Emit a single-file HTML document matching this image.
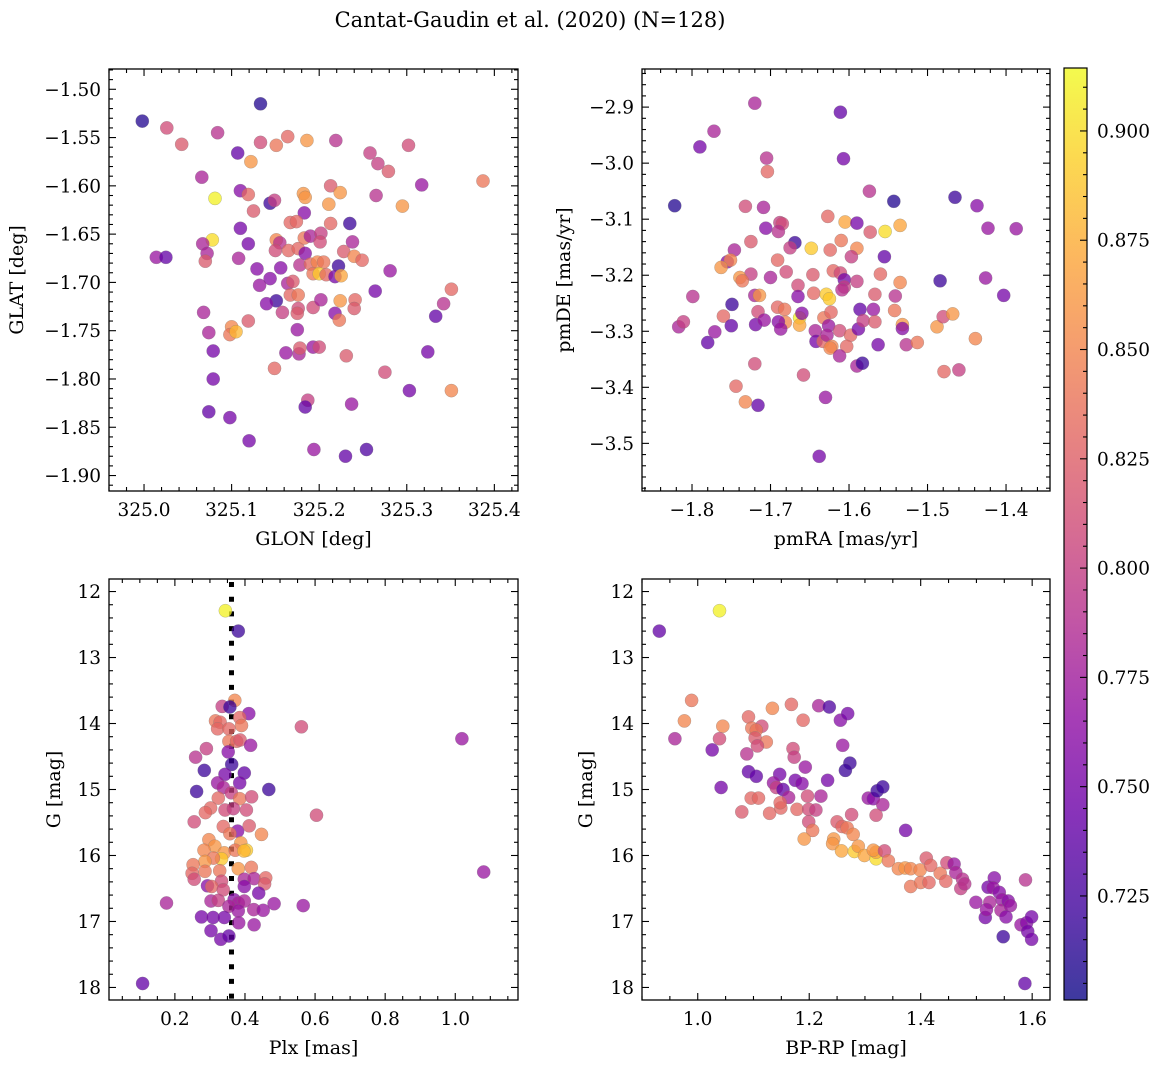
<!DOCTYPE html>
<html><head><meta charset="utf-8">
<style>
html,body{margin:0;padding:0;background:#fff;}
svg text{font-family:"DejaVu Serif","Liberation Serif",serif;fill:#000;}
</style></head>
<body>
<svg id="fig" width="1161" height="1068" viewBox="0 0 1161 1068" xmlns="http://www.w3.org/2000/svg">
<text x="530" y="27" font-size="21" text-anchor="middle">Cantat-Gaudin et al. (2020) (N=128)</text>
<defs>
<linearGradient id="plasma" x1="0" y1="1" x2="0" y2="0">
<stop offset="0" stop-color="#0d0887"/><stop offset="0.1" stop-color="#41049d"/><stop offset="0.2" stop-color="#6a00a8"/><stop offset="0.3" stop-color="#8f0da4"/><stop offset="0.4" stop-color="#b12a90"/><stop offset="0.5" stop-color="#cc4778"/><stop offset="0.6" stop-color="#e16462"/><stop offset="0.7" stop-color="#f2844b"/><stop offset="0.8" stop-color="#fca636"/><stop offset="0.9" stop-color="#fcce25"/><stop offset="1" stop-color="#f0f921"/>
</linearGradient>
</defs>
</svg>
<script>
// ---- Panel 1: GLON vs GLAT ----
const p1Glon=[324.998,325.026,325.043,325.133,325.084,325.107,325.122,325.133,325.151,325.164,325.186,325.219,325.258,325.267,325.279,325.302,325.387,325.317,325.265,325.295,325.066,325.081,325.110,325.119,325.144,325.149,325.125,325.182,325.184,325.213,325.224,325.211,325.183,325.167,325.174,325.213,325.235,325.110,325.119,325.078,325.067,325.072,325.070,325.014,325.025,325.108,325.151,325.155,325.150,325.165,325.176,325.184,325.183,325.190,325.202,325.201,325.238,325.228,325.240,325.249,325.178,325.190,325.198,325.205,325.193,325.200,325.208,325.222,325.218,325.225,325.156,325.129,325.144,325.132,325.164,325.170,325.167,325.176,325.281,325.264,325.351,325.342,325.333,325.151,325.140,325.158,325.176,325.175,325.193,325.202,325.224,325.241,325.240,325.218,325.223,325.068,325.119,325.100,325.098,325.105,325.074,325.175,325.079,325.162,325.177,325.178,325.193,325.200,325.231,325.324,325.149,325.275,325.079,325.303,325.351,325.187,325.184,325.237,325.074,325.098,325.120,325.194,325.230,325.254];
const p1Glat=[-1.533,-1.540,-1.557,-1.515,-1.545,-1.566,-1.575,-1.555,-1.558,-1.549,-1.553,-1.553,-1.566,-1.577,-1.585,-1.558,-1.595,-1.599,-1.610,-1.621,-1.591,-1.613,-1.605,-1.609,-1.618,-1.615,-1.626,-1.608,-1.612,-1.600,-1.607,-1.619,-1.628,-1.638,-1.637,-1.639,-1.639,-1.644,-1.660,-1.656,-1.660,-1.670,-1.678,-1.674,-1.674,-1.675,-1.656,-1.659,-1.667,-1.667,-1.665,-1.670,-1.654,-1.652,-1.649,-1.658,-1.658,-1.668,-1.673,-1.677,-1.682,-1.681,-1.679,-1.679,-1.691,-1.691,-1.692,-1.683,-1.694,-1.693,-1.685,-1.686,-1.696,-1.703,-1.701,-1.699,-1.713,-1.713,-1.688,-1.709,-1.707,-1.722,-1.735,-1.719,-1.722,-1.731,-1.727,-1.732,-1.726,-1.718,-1.719,-1.718,-1.727,-1.732,-1.739,-1.731,-1.740,-1.746,-1.754,-1.751,-1.752,-1.749,-1.771,-1.773,-1.774,-1.768,-1.767,-1.767,-1.776,-1.772,-1.789,-1.793,-1.800,-1.812,-1.812,-1.822,-1.829,-1.826,-1.834,-1.840,-1.864,-1.873,-1.880,-1.873];
const p1Prob=[0.71,0.81,0.82,0.71,0.79,0.74,0.86,0.81,0.84,0.83,0.86,0.79,0.80,0.80,0.82,0.81,0.84,0.77,0.79,0.86,0.78,0.91,0.76,0.83,0.72,0.80,0.82,0.86,0.86,0.82,0.86,0.86,0.76,0.83,0.83,0.83,0.72,0.75,0.75,0.90,0.78,0.78,0.82,0.77,0.74,0.78,0.85,0.79,0.81,0.83,0.83,0.76,0.84,0.78,0.80,0.81,0.78,0.82,0.85,0.83,0.79,0.83,0.85,0.84,0.84,0.89,0.83,0.72,0.75,0.87,0.76,0.76,0.76,0.77,0.78,0.82,0.83,0.84,0.77,0.75,0.83,0.79,0.74,0.72,0.76,0.80,0.81,0.82,0.81,0.78,0.86,0.83,0.82,0.76,0.84,0.78,0.82,0.85,0.84,0.88,0.78,0.77,0.75,0.77,0.78,0.82,0.77,0.81,0.82,0.75,0.83,0.81,0.75,0.75,0.85,0.80,0.74,0.77,0.74,0.75,0.75,0.77,0.74,0.73];

// ---- Panel 2: pmRA vs pmDE ----
const p2Pmra=[-1.720,-1.611,-1.772,-1.790,-1.705,-1.704,-1.607,-1.574,-1.543,-1.465,-1.437,-1.423,-1.387,-1.822,-1.732,-1.709,-1.706,-1.688,-1.685,-1.690,-1.627,-1.605,-1.590,-1.573,-1.554,-1.535,-1.669,-1.675,-1.648,-1.624,-1.610,-1.590,-1.597,-1.555,-1.725,-1.746,-1.755,-1.751,-1.763,-1.691,-1.680,-1.725,-1.739,-1.736,-1.700,-1.646,-1.620,-1.611,-1.606,-1.606,-1.609,-1.590,-1.560,-1.535,-1.484,-1.426,-1.403,-1.799,-1.749,-1.720,-1.714,-1.665,-1.665,-1.645,-1.629,-1.625,-1.567,-1.541,-1.760,-1.817,-1.811,-1.780,-1.771,-1.750,-1.719,-1.716,-1.708,-1.691,-1.682,-1.681,-1.690,-1.687,-1.663,-1.663,-1.660,-1.632,-1.623,-1.626,-1.643,-1.642,-1.633,-1.628,-1.622,-1.624,-1.612,-1.598,-1.603,-1.612,-1.586,-1.588,-1.582,-1.569,-1.567,-1.563,-1.542,-1.532,-1.532,-1.527,-1.513,-1.488,-1.480,-1.468,-1.439,-1.479,-1.460,-1.590,-1.583,-1.720,-1.658,-1.744,-1.732,-1.716,-1.630,-1.638];
const p2Pmde=[-2.893,-2.909,-2.943,-2.971,-2.991,-3.015,-2.992,-3.050,-3.068,-3.061,-3.076,-3.116,-3.117,-3.076,-3.077,-3.079,-3.116,-3.106,-3.108,-3.122,-3.095,-3.105,-3.107,-3.123,-3.122,-3.111,-3.142,-3.151,-3.152,-3.155,-3.138,-3.152,-3.167,-3.167,-3.140,-3.155,-3.176,-3.173,-3.186,-3.173,-3.194,-3.198,-3.204,-3.210,-3.204,-3.199,-3.192,-3.196,-3.208,-3.221,-3.226,-3.211,-3.198,-3.213,-3.210,-3.205,-3.236,-3.238,-3.252,-3.236,-3.236,-3.218,-3.238,-3.232,-3.234,-3.242,-3.234,-3.237,-3.273,-3.292,-3.283,-3.320,-3.301,-3.290,-3.288,-3.265,-3.280,-3.257,-3.261,-3.284,-3.283,-3.296,-3.276,-3.289,-3.268,-3.276,-3.266,-3.290,-3.299,-3.318,-3.318,-3.307,-3.327,-3.330,-3.299,-3.307,-3.327,-3.344,-3.261,-3.296,-3.281,-3.261,-3.283,-3.324,-3.263,-3.288,-3.295,-3.324,-3.320,-3.292,-3.274,-3.269,-3.313,-3.372,-3.369,-3.362,-3.357,-3.358,-3.378,-3.398,-3.426,-3.432,-3.418,-3.523];
const p2Prob=[0.78,0.74,0.78,0.75,0.79,0.83,0.75,0.79,0.71,0.72,0.76,0.77,0.77,0.71,0.81,0.78,0.76,0.80,0.81,0.79,0.83,0.87,0.75,0.82,0.90,0.87,0.72,0.80,0.89,0.83,0.84,0.85,0.80,0.74,0.82,0.78,0.76,0.85,0.86,0.83,0.81,0.80,0.86,0.84,0.78,0.82,0.83,0.81,0.75,0.80,0.79,0.80,0.83,0.85,0.72,0.77,0.75,0.79,0.72,0.78,0.86,0.81,0.76,0.83,0.89,0.89,0.82,0.79,0.83,0.78,0.80,0.74,0.77,0.74,0.75,0.81,0.77,0.83,0.84,0.85,0.76,0.77,0.91,0.87,0.76,0.84,0.83,0.77,0.78,0.75,0.83,0.78,0.85,0.85,0.81,0.83,0.83,0.78,0.74,0.75,0.80,0.77,0.82,0.75,0.84,0.86,0.76,0.79,0.84,0.86,0.81,0.86,0.85,0.83,0.80,0.78,0.72,0.81,0.81,0.83,0.85,0.74,0.77,0.75];

// ---- Panel 3: Plx vs G ----
const p3Plx=[0.344,0.381,0.371,0.335,0.357,0.411,0.385,0.316,0.329,0.390,0.322,0.354,0.561,1.019,0.354,0.376,0.386,0.416,0.290,0.352,0.259,0.362,0.284,0.343,0.398,0.385,0.322,0.338,0.468,0.262,0.361,0.324,0.385,0.419,0.302,0.287,0.343,0.367,0.404,0.604,0.255,0.338,0.379,0.412,0.357,0.297,0.314,0.388,0.447,0.283,0.341,0.372,0.404,0.397,0.333,0.310,0.286,0.252,0.381,0.418,0.328,0.286,0.249,0.255,0.333,0.398,0.426,0.459,0.456,0.293,0.305,0.338,0.398,0.439,1.081,0.176,0.303,0.324,0.369,0.381,0.398,0.483,0.566,0.354,0.425,0.452,0.381,0.276,0.309,0.341,0.382,0.426,0.303,0.331,0.354,0.108];
const p3G=[12.29,12.60,13.65,13.74,13.75,13.85,13.91,13.96,13.98,14.03,14.08,14.08,14.05,14.23,14.27,14.27,14.25,14.33,14.38,14.43,14.51,14.62,14.71,14.77,14.75,14.90,14.90,14.97,15.00,15.03,15.05,15.13,15.14,15.11,15.28,15.35,15.31,15.29,15.31,15.39,15.49,15.56,15.63,15.55,15.67,15.76,15.86,15.81,15.68,15.92,15.96,15.92,15.92,15.93,16.05,16.04,16.09,16.14,16.20,16.18,16.23,16.24,16.27,16.36,16.39,16.36,16.35,16.34,16.43,16.46,16.47,16.52,16.47,16.57,16.25,16.72,16.69,16.68,16.67,16.72,16.69,16.73,16.76,16.77,16.82,16.83,16.84,16.93,16.94,16.94,17.02,17.05,17.14,17.27,17.22,17.94];
const p3Prob=[0.91,0.72,0.85,0.80,0.72,0.76,0.83,0.84,0.83,0.84,0.83,0.83,0.81,0.77,0.84,0.83,0.82,0.77,0.80,0.76,0.79,0.72,0.72,0.75,0.74,0.75,0.77,0.78,0.72,0.72,0.80,0.83,0.84,0.81,0.83,0.83,0.81,0.80,0.81,0.81,0.81,0.83,0.76,0.82,0.84,0.85,0.86,0.86,0.85,0.85,0.86,0.84,0.89,0.88,0.89,0.84,0.86,0.84,0.86,0.84,0.84,0.84,0.83,0.81,0.81,0.78,0.78,0.83,0.82,0.76,0.83,0.81,0.76,0.75,0.77,0.78,0.78,0.80,0.76,0.78,0.78,0.77,0.77,0.78,0.78,0.77,0.77,0.75,0.75,0.75,0.77,0.77,0.75,0.75,0.74,0.74];

// ---- Panel 4: BP-RP vs G ----
const p4Bprp=[1.039,0.931,0.989,0.976,0.959,1.045,1.039,1.026,1.042,1.091,1.097,1.115,1.105,1.103,1.123,1.107,1.088,1.134,1.168,1.189,1.217,1.236,1.256,1.269,1.260,1.171,1.173,1.193,1.273,1.265,1.233,1.091,1.105,1.147,1.175,1.187,1.136,1.141,1.153,1.163,1.221,1.197,1.096,1.109,1.079,1.129,1.149,1.148,1.178,1.199,1.212,1.199,1.206,1.191,1.250,1.259,1.268,1.279,1.244,1.242,1.258,1.281,1.288,1.299,1.320,1.320,1.315,1.335,1.342,1.306,1.315,1.322,1.332,1.332,1.276,1.320,1.373,1.360,1.372,1.382,1.399,1.410,1.418,1.382,1.400,1.415,1.435,1.445,1.447,1.460,1.463,1.475,1.472,1.479,1.499,1.516,1.521,1.532,1.530,1.541,1.546,1.524,1.518,1.544,1.557,1.561,1.553,1.588,1.580,1.590,1.599,1.592,1.599,1.548,1.587];
const p4G=[12.29,12.60,13.65,13.96,14.23,14.04,14.23,14.40,14.97,13.90,14.07,14.04,14.10,14.22,14.28,14.34,14.46,13.77,13.71,13.95,13.73,13.75,13.95,13.85,14.33,14.38,14.51,14.66,14.60,14.71,14.86,14.73,14.80,14.77,14.86,14.91,14.90,14.97,15.00,15.12,15.10,15.10,15.13,15.13,15.34,15.36,15.28,15.20,15.30,15.30,15.31,15.49,15.62,15.75,15.49,15.56,15.58,15.68,15.75,15.82,15.93,15.94,15.86,16.00,16.05,15.95,15.92,15.93,16.08,15.13,15.14,15.02,14.96,15.23,15.38,15.39,15.62,16.20,16.19,16.20,16.22,16.04,16.15,16.47,16.41,16.41,16.27,16.39,16.11,16.13,16.26,16.36,16.50,16.43,16.71,16.94,16.48,16.34,16.49,16.56,16.67,16.71,16.82,16.83,16.69,16.76,16.93,16.37,17.05,17.02,16.93,17.15,17.27,17.23,17.94];
const p4Prob=[0.91,0.74,0.84,0.85,0.78,0.85,0.81,0.75,0.75,0.83,0.84,0.81,0.84,0.82,0.84,0.81,0.79,0.85,0.83,0.83,0.78,0.73,0.76,0.75,0.77,0.81,0.80,0.77,0.72,0.72,0.75,0.74,0.74,0.75,0.75,0.76,0.77,0.80,0.74,0.78,0.78,0.81,0.83,0.83,0.82,0.83,0.83,0.83,0.83,0.81,0.80,0.81,0.84,0.86,0.82,0.83,0.84,0.85,0.86,0.86,0.87,0.89,0.86,0.87,0.90,0.87,0.86,0.81,0.84,0.77,0.76,0.72,0.72,0.78,0.81,0.81,0.75,0.85,0.86,0.85,0.85,0.82,0.83,0.84,0.84,0.83,0.84,0.83,0.81,0.77,0.78,0.79,0.80,0.79,0.77,0.75,0.75,0.76,0.77,0.76,0.77,0.78,0.77,0.78,0.76,0.77,0.76,0.79,0.77,0.76,0.75,0.75,0.75,0.72,0.74];

const plxRef=[0.3615];
const cbTicks=[0.725,0.750,0.775,0.800,0.825,0.850,0.875,0.900];
const CMIN=0.7012, CMAX=0.9144;

const NS="http://www.w3.org/2000/svg";
const svg=document.getElementById('fig');
const stops=[[13,8,135],[65,4,157],[106,0,168],[143,13,164],[177,42,144],[204,71,120],[225,100,98],[242,132,75],[252,166,54],[252,206,37],[240,249,33]];
function plasma(v){let t=(v-CMIN)/(CMAX-CMIN);t=Math.max(0,Math.min(1,t))*10;const i=Math.min(9,Math.floor(t)),f=t-i;const a=stops[i],b=stops[i+1];return `rgb(${Math.round(a[0]+(b[0]-a[0])*f)},${Math.round(a[1]+(b[1]-a[1])*f)},${Math.round(a[2]+(b[2]-a[2])*f)})`;}
function mk(tag,attrs,parent){const e=document.createElementNS(NS,tag);for(const k in attrs)e.setAttribute(k,attrs[k]);(parent||svg).appendChild(e);return e;}
function fmt(v,d){const s=v.toFixed(d);return v<0?'\u2212'+s.slice(1):s;}

function panel(cfg,xs,ys,cs){
  const g=mk('g',{});
  
  
  const X=v=>cfg.L+(v-cfg.x0)/(cfg.x1-cfg.x0)*(cfg.R-cfg.L);
  const Y=v=>cfg.T+(v-cfg.y0)/(cfg.y1-cfg.y0)*(cfg.B-cfg.T);
  const clip='clip-'+cfg.name;
  const cp=mk('clipPath',{id:clip},g);mk('rect',{x:cfg.L,y:cfg.T,width:cfg.R-cfg.L,height:cfg.B-cfg.T},cp);
  const pts=mk('g',{'clip-path':`url(#${clip})`},g);
  
  
  if(cfg.vline){for(const v of cfg.vline){const l=mk('line',{x1:X(v),x2:X(v),y1:cfg.T+3,y2:cfg.B,stroke:'#000','stroke-width':5,'stroke-dasharray':'5 9.7'},pts);
    
    }}
  for(let i=0;i<xs.length;i++){
    const c=mk('circle',{cx:X(xs[i]).toFixed(1),cy:Y(ys[i]).toFixed(1),r:6.6,fill:plasma(cs[i]),'fill-opacity':0.76,stroke:'#777','stroke-opacity':0.5,'stroke-width':0.5},pts);
    
    
  }
  const tk=mk('g',{stroke:'#000','stroke-width':1.1},g);
  const eps=1e-9;
  const xmin=Math.min(cfg.x0,cfg.x1),xmax=Math.max(cfg.x0,cfg.x1);
  for(let v=Math.ceil(xmin/cfg.xmin-eps)*cfg.xmin;v<=xmax+eps;v+=cfg.xmin){
    const major=Math.abs(v/cfg.xmaj-Math.round(v/cfg.xmaj))<1e-6;const len=major?7:4;const x=X(v);
    mk('line',{x1:x,x2:x,y1:cfg.B,y2:cfg.B-len},tk);mk('line',{x1:x,x2:x,y1:cfg.T,y2:cfg.T+len},tk);}
  const ymn=Math.min(cfg.y0,cfg.y1),ymx=Math.max(cfg.y0,cfg.y1);
  for(let v=Math.ceil(ymn/cfg.ymin-eps)*cfg.ymin;v<=ymx+eps;v+=cfg.ymin){
    const major=Math.abs(v/cfg.ymaj-Math.round(v/cfg.ymaj))<1e-6;const len=major?7:4;const y=Y(v);
    mk('line',{x1:cfg.L,x2:cfg.L+len,y1:y,y2:y},tk);mk('line',{x1:cfg.R,x2:cfg.R-len,y1:y,y2:y},tk);}
  const fr=mk('rect',{x:cfg.L,y:cfg.T,width:cfg.R-cfg.L,height:cfg.B-cfg.T,fill:'none',stroke:'#000','stroke-width':1.3},g);
  
  
  for(const v of cfg.xt){const t=mk('text',{x:X(v),y:cfg.B+25,'font-size':18.5,'text-anchor':'middle'},g);t.textContent=fmt(v,cfg.xd);
    
    }
  for(const v of cfg.yt){const t=mk('text',{x:cfg.L-8,y:Y(v)+6.5,'font-size':18.5,'text-anchor':'end'},g);t.textContent=fmt(v,cfg.yd);
    
    }
  const xl=mk('text',{x:(cfg.L+cfg.R)/2,y:cfg.B+54,'font-size':19,'text-anchor':'middle'},g);xl.textContent=cfg.xlab;
  
  
  const yl=mk('text',{x:0,y:0,'font-size':19,'text-anchor':'middle',transform:`translate(${cfg.ylx},${(cfg.T+cfg.B)/2}) rotate(-90)`},g);yl.textContent=cfg.ylab;
  
  
}

panel({name:'glon-glat-panel',L:109,R:518,T:69,B:491,x0:324.960,x1:325.427,y0:-1.479,y1:-1.916,xmaj:0.1,xmin:0.02,ymaj:0.05,ymin:0.01,xt:[325.0,325.1,325.2,325.3,325.4],xd:1,yt:[-1.50,-1.55,-1.60,-1.65,-1.70,-1.75,-1.80,-1.85,-1.90],yd:2,xlab:'GLON [deg]',ylab:'GLAT [deg]',ylx:23},p1Glon,p1Glat,p1Prob);
panel({name:'pm-panel',L:642,R:1050,T:69,B:491,x0:-1.8637,x1:-1.344,y0:-2.832,y1:-3.585,xmaj:0.1,xmin:0.02,ymaj:0.1,ymin:0.02,xt:[-1.8,-1.7,-1.6,-1.5,-1.4],xd:1,yt:[-2.9,-3.0,-3.1,-3.2,-3.3,-3.4,-3.5],yd:1,xlab:'pmRA [mas/yr]',ylab:'pmDE [mas/yr]',ylx:570},p2Pmra,p2Pmde,p2Prob);
panel({name:'plx-g-panel',L:109,R:518,T:579,B:1000,x0:0.012,x1:1.179,y0:11.81,y1:18.19,xmaj:0.2,xmin:0.05,ymaj:1,ymin:0.2,xt:[0.2,0.4,0.6,0.8,1.0],xd:1,yt:[12,13,14,15,16,17,18],yd:0,xlab:'Plx [mas]',ylab:'G [mag]',ylx:60,vline:plxRef},p3Plx,p3G,p3Prob);
panel({name:'cmd-panel',L:642,R:1050,T:579,B:1000,x0:0.900,x1:1.632,y0:11.81,y1:18.19,xmaj:0.2,xmin:0.05,ymaj:1,ymin:0.2,xt:[1.0,1.2,1.4,1.6],xd:1,yt:[12,13,14,15,16,17,18],yd:0,xlab:'BP-RP [mag]',ylab:'G [mag]',ylx:592},p4Bprp,p4G,p4Prob);

const cb=mk('g',{});


const CT=68,CB=1000,CL=1064,CR=1087;
mk('rect',{x:CL,y:CT,width:CR-CL,height:CB-CT,fill:'url(#plasma)','fill-opacity':0.8},cb);
mk('rect',{x:CL,y:CT,width:CR-CL,height:CB-CT,fill:'none',stroke:'#000','stroke-width':1.2},cb);
const CY=v=>CB-(v-CMIN)/(CMAX-CMIN)*(CB-CT);
for(let k=Math.ceil(CMIN/0.005);k*0.005<=CMAX;k++){const v=k*0.005;const maj=(k%5===0);const y=CY(v);
  mk('line',{x1:CR,x2:CR-(maj?7:4),y1:y,y2:y,stroke:'#000','stroke-width':1.1},cb);}
for(const v of cbTicks){const t=mk('text',{x:CR+10,y:CY(v)+6.5,'font-size':18.5},cb);t.textContent=v.toFixed(3);
  
  }
</script>
</body></html>
